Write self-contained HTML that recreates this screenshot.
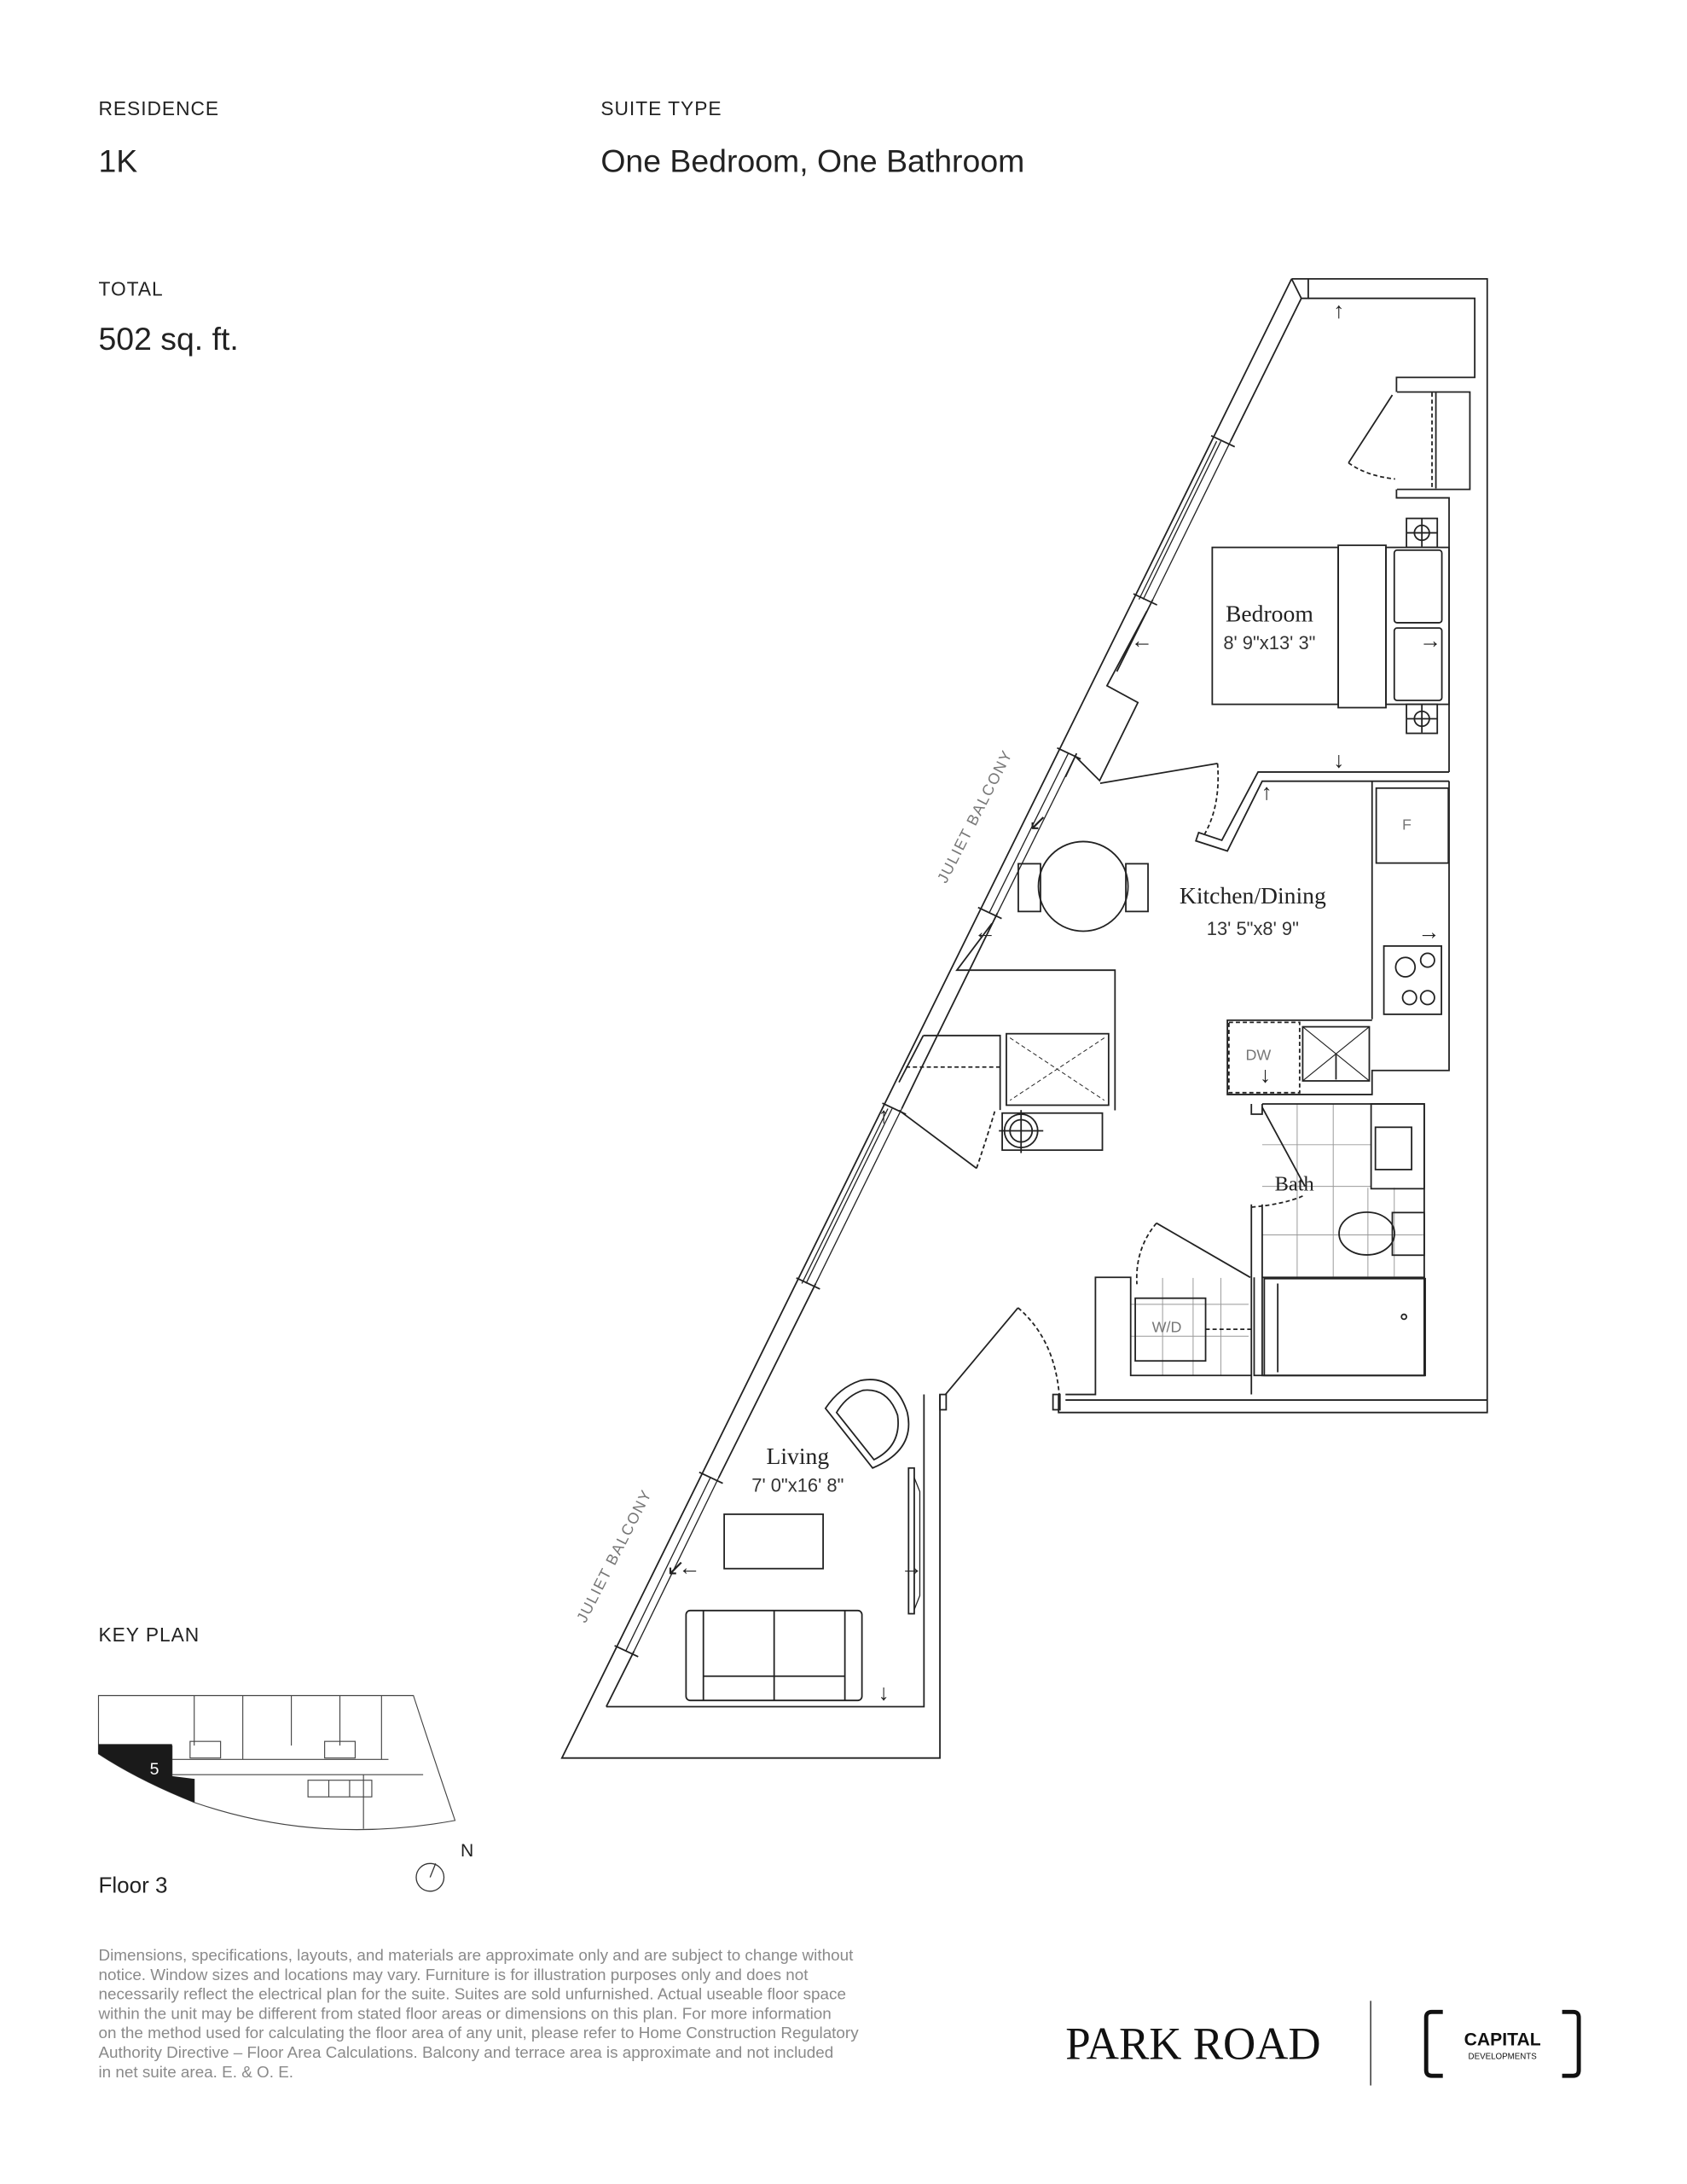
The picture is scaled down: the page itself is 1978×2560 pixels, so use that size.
<!DOCTYPE html>
<html><head><meta charset="utf-8"><style>
html,body{margin:0;padding:0;background:#fff;}
svg{display:block;}
text{font-family:"Liberation Sans",sans-serif;}
.serif{font-family:"Liberation Serif",serif;}
</style></head><body>
<svg width="1978" height="2560" viewBox="0 0 1216 1574" preserveAspectRatio="none" xmlns="http://www.w3.org/2000/svg">
<rect width="1216" height="1574" fill="#fff"/>
<g fill="#222">
<text x="71" y="83" font-size="14" letter-spacing="0.6">RESIDENCE</text>
<text x="433" y="83" font-size="14" letter-spacing="0.6">SUITE TYPE</text>
<text x="71" y="124" font-size="23">1K</text>
<text x="433" y="124" font-size="23">One Bedroom, One Bathroom</text>
<text x="71" y="213" font-size="14" letter-spacing="0.6">TOTAL</text>
<text x="71" y="252" font-size="23">502 sq. ft.</text>
<text x="71" y="1183" font-size="14" letter-spacing="0.6">KEY PLAN</text>
<text x="71" y="1364" font-size="16">Floor 3</text>
<text x="332" y="1338" font-size="13">N</text>
</g>
<circle cx="310" cy="1353" r="10" fill="none" stroke="#333" stroke-width="0.8"/>
<line x1="310" y1="1353" x2="314" y2="1343" stroke="#333" stroke-width="0.8"/>
<g fill="#8a8a8a" font-size="11.6">
<text x="71" y="1413">Dimensions, specifications, layouts, and materials are approximate only and are subject to change without</text>
<text x="71" y="1427">notice. Window sizes and locations may vary. Furniture is for illustration purposes only and does not</text>
<text x="71" y="1441">necessarily reflect the electrical plan for the suite. Suites are sold unfurnished. Actual useable floor space</text>
<text x="71" y="1455">within the unit may be different from stated floor areas or dimensions on this plan. For more information</text>
<text x="71" y="1469">on the method used for calculating the floor area of any unit, please refer to Home Construction Regulatory</text>
<text x="71" y="1483">Authority Directive – Floor Area Calculations. Balcony and terrace area is approximate and not included</text>
<text x="71" y="1497">in net suite area. E. &amp; O. E.</text>
</g>
<text x="768" y="1484" font-size="33" fill="#111" class="serif" textLength="184" lengthAdjust="spacingAndGlyphs">PARK ROAD</text>
<line x1="988" y1="1442" x2="988" y2="1503" stroke="#444" stroke-width="1"/>
<path d="M1040,1450 h-8 q-4,0 -4,4 v38 q0,4 4,4 h8" fill="none" stroke="#111" stroke-width="3"/>
<path d="M1126,1450 h8 q4,0 4,4 v38 q0,4 -4,4 h-8" fill="none" stroke="#111" stroke-width="3"/>
<text x="1083" y="1474" font-size="13" font-weight="bold" fill="#111" text-anchor="middle">CAPITAL</text>
<text x="1083" y="1484" font-size="6" fill="#111" text-anchor="middle">DEVELOPMENTS</text>

<g fill="none" stroke="#444" stroke-width="0.7">
<path d="M71,1222 L298,1222 Q312,1265 328,1312 Q230,1330 140,1299 Q100,1283 71,1264 Z"/>
<line x1="124" y1="1279" x2="305" y2="1279"/>
<line x1="124" y1="1258" x2="124" y2="1280"/>
<line x1="71" y1="1258" x2="124" y2="1258"/>
<line x1="140" y1="1222" x2="140" y2="1258"/>
<line x1="175" y1="1222" x2="175" y2="1268"/>
<line x1="210" y1="1222" x2="210" y2="1258"/>
<line x1="245" y1="1222" x2="245" y2="1258"/>
<line x1="275" y1="1222" x2="275" y2="1268"/>
<line x1="262" y1="1279" x2="262" y2="1318"/>
<line x1="140" y1="1282" x2="140" y2="1299"/>
<rect x="137" y="1255" width="22" height="12"/>
<rect x="234" y="1255" width="22" height="12"/>
<rect x="222" y="1283" width="46" height="12"/>
<line x1="237" y1="1283" x2="237" y2="1295"/><line x1="252" y1="1283" x2="252" y2="1295"/>
<line x1="124" y1="1268" x2="280" y2="1268"/>
</g>
<path d="M71,1257 L124,1257 L124,1280 L140,1282 L140,1299 Q100,1283 71,1264 Z" fill="#1a1a1a"/>
<text x="108" y="1279" font-size="12" fill="#fff">5</text>

<g fill="none" stroke="#222" stroke-width="1.1" stroke-linejoin="miter">
<path d="M931,201 L1072,201 L1072,1018 L763,1018 L763,1005"/>
<path d="M931,201 L405,1267 L677.5,1267 L677.5,1005"/>
<path d="M931,201 L938,215 L943,215 L943,201"/>
<!-- inner diagonal wall pieces -->
<path d="M938,215 L887,318"/>
<path d="M831,432 L805,484"/>
<path d="M776,543 L768,560"/>
<path d="M719,658 L664,770 L650,799"/>
<path d="M588,925 L518,1065"/>
<path d="M457,1190 L437,1230"/>
<!-- windows -->
<g stroke-width="0.8">
<path d="M887,318 L831,432"/><path d="M880,318 L824,432"/><path d="M877,318 L821,432"/>
<path d="M776,543 L719,658"/><path d="M770,543 L713,658"/>
<path d="M650,799 L588,925"/><path d="M643,799 L581,925"/><path d="M640,799 L578,925"/>
<path d="M518,1065 L457,1190"/><path d="M512,1065 L451,1190"/>
</g>
<path d="M873,314 L890,322"/><path d="M817,428 L834,436"/>
<path d="M762,539 L779,547"/><path d="M705,654 L722,662"/>
<path d="M636,795 L653,803"/><path d="M574,921 L591,929"/>
<path d="M504,1061 L521,1069"/><path d="M443,1186 L460,1194"/>
<!-- top room / closet -->
<path d="M943,215 L1063,215 L1063,272 L1006.6,272 L1006.6,282.5"/>
<path d="M1007,282.5 L1059.5,282.5 L1059.5,352.7 L1007,352.7"/>
<path d="M1006.6,352.7 L1006.6,358.8 L1044.5,358.8 L1044.5,556.4"/>
<line x1="1032.2" y1="283" x2="1032.2" y2="352" stroke-dasharray="3,2"/>
<line x1="1035" y1="283" x2="1035" y2="352"/>
<path d="M1003.6,284.7 L972,333.6"/>
<path d="M972,333.6 Q985,343 1005.6,345.2" stroke-dasharray="3,2"/>
<!-- bedroom wall jog -->
<path d="M826.6,440.6 L797.9,494.2 L820.2,506.3 L792.6,562.6 L775,545"/>
<path d="M793,564.5 L877.6,550.2"/>
<path d="M877.6,550.2 Q880,580 868.4,601" stroke-dasharray="3,2"/>
<path d="M1044.5,556.4 L906.8,556.4 L880.7,605.6 L864,600 L862,606 L884.7,613.3 L909.8,563 L1044.5,563"/>
<!-- kitchen -->
<path d="M989,563 L989,734.6"/>
<path d="M1044.5,563 L1044.5,771.5 L989,771.5 L989,788.8 L884.7,788.8 L884.7,735.3 L989,735.3"/>
<rect x="992" y="568" width="52" height="54"/>
<rect x="997.5" y="681.8" width="41.5" height="49.2"/>
<circle cx="1013" cy="697" r="7"/><circle cx="1029" cy="692" r="5"/>
<circle cx="1016" cy="719" r="5"/><circle cx="1029" cy="719" r="5"/>
<rect x="885.8" y="736.8" width="51" height="50.7" stroke-dasharray="3,2"/>
<rect x="939" y="740" width="48" height="39"/>
<path d="M939,740 L987,779 M987,740 L939,779" stroke-width="0.7"/>
<line x1="963" y1="760" x2="963" y2="778"/>
<path d="M715,665.5 L689.7,699.2 L803.7,699.2 L803.7,800.2"/>
<rect x="725.4" y="745" width="73.7" height="51.5"/>
<path d="M728,748 L796,793 M796,748 L728,793" stroke-width="0.6" stroke-dasharray="3,2"/>
<path d="M665.5,746.3 L720.9,746.3 L720.9,800"/>
<line x1="653" y1="769" x2="720.9" y2="769" stroke-dasharray="3,2"/>
<path d="M665.5,746.3 L648,780"/>
<path d="M648,800.2 L703.9,842"/>
<path d="M703.9,842 Q712,818 717.3,800" stroke-dasharray="3,2"/>
<rect x="722.4" y="802.2" width="72.2" height="26.7"/>
<circle cx="736" cy="815" r="12"/><circle cx="736" cy="815" r="8"/>
<line x1="720" y1="815" x2="752" y2="815"/><line x1="736" y1="800" x2="736" y2="831"/>
<!-- bath -->
<g stroke="#999" stroke-width="0.6">
<line x1="909.8" y1="825" x2="988" y2="825"/><line x1="909.8" y1="855" x2="988" y2="855"/>
<line x1="909.8" y1="890" x2="1026" y2="890"/>
<line x1="935" y1="796" x2="935" y2="920"/><line x1="961" y1="796" x2="961" y2="920"/>
<line x1="986" y1="856" x2="986" y2="920"/><line x1="1005" y1="856" x2="1005" y2="920"/>
<line x1="815" y1="940" x2="900" y2="940"/><line x1="815" y1="963" x2="900" y2="963"/>
<line x1="838" y1="921" x2="838" y2="991"/><line x1="860" y1="921" x2="860" y2="991"/><line x1="880" y1="921" x2="880" y2="991"/>
</g>
<path d="M909.8,795.6 L1026.6,795.6 L1026.6,991.3 L904,991.3 L904,920.6"/>
<path d="M902,795.6 L902,803 L909.8,803 L909.8,795.6"/>
<path d="M902,868 L902,1005 M909.8,868 L909.8,920.6"/>
<path d="M909.8,798 L940.6,855"/>
<path d="M902,870 Q925,868 939,862" stroke-dasharray="3,2"/>
<rect x="988.3" y="795.6" width="38.3" height="61.1"/>
<rect x="991.4" y="812.4" width="26.1" height="30.5"/>
<ellipse cx="985.2" cy="889" rx="20" ry="15.4"/>
<rect x="1003.6" y="873.9" width="23" height="30.7"/>
<rect x="909.8" y="920.6" width="116.8" height="70.7"/>
<rect x="911.3" y="921.5" width="116" height="69.8"/>
<line x1="921" y1="925" x2="921" y2="989"/>
<circle cx="1012" cy="949" r="1.8"/>
<path d="M768,1005 L789.6,1005 L789.6,920.6 L815,920.6 L815,991.3 L902,991.3"/>
<rect x="818.3" y="935.6" width="50.7" height="45.2"/>
<line x1="869" y1="958" x2="902" y2="958" stroke-dasharray="3,2"/>
<path d="M901.2,920.6 L833.6,881.5"/>
<path d="M833.6,881.5 Q818,900 819.5,925.5" stroke-dasharray="3,2"/>
<line x1="768" y1="1009" x2="1072" y2="1009"/>
<rect x="677.5" y="1005" width="4.5" height="11"/>
<rect x="759" y="1005" width="5" height="11"/>
<path d="M681.5,1005 L733.8,942.5"/>
<path d="M733.8,942.5 Q760,965 763.5,1005" stroke-dasharray="3,2"/>
<path d="M437,1230 L666,1230 L666,1005"/>
<rect x="522" y="1091.3" width="71.3" height="39.2"/>
<rect x="494.5" y="1160.7" width="126.8" height="64.8" rx="3"/>
<line x1="507" y1="1160.7" x2="507" y2="1225.5"/><line x1="609" y1="1160.7" x2="609" y2="1225.5"/>
<line x1="558" y1="1160.7" x2="558" y2="1225.5"/><line x1="507" y1="1208" x2="609" y2="1208"/>
<rect x="654.9" y="1058" width="4.1" height="105"/>
<path d="M659,1065 L663,1075 L663,1150 L659,1160" stroke-width="0.8"/>
<path d="M595,1015 L629,1058 Q660,1045 654,1018 Q645,990 620,995 Q605,1000 595,1015 Z"/>
<path d="M603,1018 L630,1052 Q650,1042 647,1020 Q640,1000 622,1002 Q610,1006 603,1018 Z"/>
<rect x="873.8" y="394.5" width="90.8" height="113.1"/>
<rect x="964.6" y="393" width="34.4" height="117"/>
<rect x="999" y="394.5" width="45.5" height="113.1"/>
<rect x="1005" y="396.5" width="34.3" height="52.3" rx="2"/>
<rect x="1005" y="452.6" width="34.3" height="52.2" rx="2"/>
<rect x="1013.8" y="373.6" width="22.2" height="20.9"/>
<rect x="1013.8" y="507.6" width="22.2" height="20.9"/>
<circle cx="1024.9" cy="384" r="5.4"/><circle cx="1024.9" cy="518" r="5.4"/>
<line x1="1024.9" y1="374" x2="1024.9" y2="394"/><line x1="1024.9" y1="508" x2="1024.9" y2="528"/>
<line x1="1014" y1="384" x2="1036" y2="384"/><line x1="1014" y1="518" x2="1036" y2="518"/>
<circle cx="780.8" cy="638.8" r="32.3"/>
<rect x="734" y="622.5" width="16" height="34.4"/>
<rect x="811.5" y="622.5" width="16" height="34.4"/>
</g>
<g fill="#222" font-size="16" font-family="DejaVu Sans,sans-serif" text-anchor="middle">
<text x="965" y="229">↑</text>
<text x="823" y="467">←</text>
<text x="1031" y="467">→</text>
<text x="965" y="553">↓</text>
<text x="913" y="576">↑</text>
<text x="748" y="598">↙</text>
<text x="710" y="677">←</text>
<text x="1030" y="677">→</text>
<text x="912" y="780">↓</text>
<text x="637" y="809">↑</text>
<text x="487" y="1135">↙</text>
<text x="497" y="1135">←</text>
<text x="657" y="1135">→</text>
<text x="637" y="1225">↓</text>
</g>
<g fill="#222" text-anchor="middle">
<text x="915" y="448" font-size="17" class="serif">Bedroom</text>
<text x="903" y="651" font-size="17" class="serif">Kitchen/Dining</text>
<text x="933" y="858" font-size="15" class="serif">Bath</text>
<text x="575" y="1055" font-size="17" class="serif">Living</text>
</g>
<g fill="#333" text-anchor="middle" font-size="13.5">
<text x="915" y="468">8' 9"x13' 3"</text>
<text x="903" y="674">13' 5"x8' 9"</text>
<text x="575" y="1075">7' 0"x16' 8"</text>
</g>
<g fill="#777" text-anchor="middle" font-size="11">
<text x="1014" y="598">F</text>
<text x="907" y="764">DW</text>
<text x="841" y="960">W/D</text>
<text x="706" y="590" transform="rotate(-63 706 590)" letter-spacing="1">JULIET BALCONY</text>
<text x="446" y="1123" transform="rotate(-63 446 1123)" letter-spacing="1">JULIET BALCONY</text>
</g>
</svg>
</body></html>
